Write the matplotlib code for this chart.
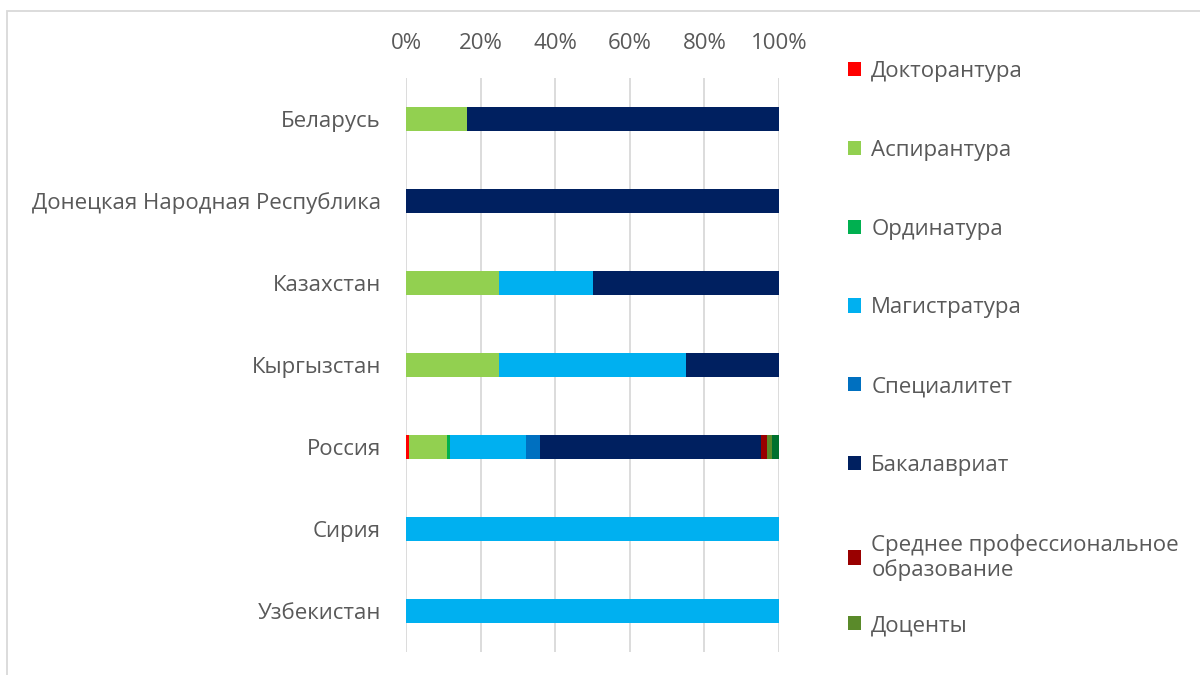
import matplotlib
matplotlib.use("Agg")
import matplotlib.pyplot as plt
import matplotlib.patches as mpatches
import numpy as np

plt.rcParams['font.family'] = ['Open Sans', 'DejaVu Sans']

# countries, top to bottom
countries = ['Беларусь', 'Донецкая Народная Республика', 'Казахстан', 'Кыргызстан',
             'Россия', 'Сирия', 'Узбекистан']

# shares (%) per level of education, same order as countries
doktorantura = [0, 0, 0, 0, 0.9, 0, 0]
aspirantura = [16.4, 0, 25, 25, 10.0, 0, 0]
ordinatura = [0, 0, 0, 0, 1.0, 0, 0]
magistratura = [0, 0, 25, 50, 20.2, 100, 100]
specialitet = [0, 0, 0, 0, 3.9, 0, 0]
bakalavriat = [83.6, 100, 50, 25, 59.1, 0, 0]
spo = [0, 0, 0, 0, 1.8, 0, 0]
docenty = [0, 0, 0, 0, 1.1, 0, 0]
other = [0, 0, 0, 0, 2.0, 0, 0]   # last dark-green piece, no legend entry

series = [
    ('Докторантура', doktorantura, '#ff0000'),
    ('Аспирантура', aspirantura, '#92d050'),
    ('Ординатура', ordinatura, '#00b050'),
    ('Магистратура', magistratura, '#00b0f0'),
    ('Специалитет', specialitet, '#0070c0'),
    ('Бакалавриат', bakalavriat, '#002060'),
    ('Среднее профессиональное\nобразование', spo, '#990000'),
    ('Доценты', docenty, '#5a8a2a'),
    ('_nolegend_', other, '#00702e'),
]

fig = plt.figure(figsize=(12, 6.75), dpi=100)
ax = fig.add_axes([406 / 1200, 1 - 652 / 675, 373 / 1200, 574 / 675])

y = np.arange(len(countries))
left = np.zeros(len(countries))
for name, vals, col in series:
    vals = np.array(vals)
    ax.barh(y, vals, left=left, height=0.3, color=col, label=name, zorder=3)
    left += vals

ax.set_xlim(0, 100)
ax.set_ylim(len(countries) - 0.5, -0.5)
ax.set_yticks(y)
ax.set_yticklabels(countries)
ax.set_xticks(np.arange(0, 101, 20))
ax.set_xticklabels([f'{v}%' for v in range(0, 101, 20)])
ax.xaxis.tick_top()
ax.tick_params(axis='both', length=0, labelsize=16, labelcolor='#595959')
ax.tick_params(axis='x', pad=17)
ax.tick_params(axis='y', pad=18)
ax.grid(axis='x', color='#d9d9d9', linewidth=1.3, zorder=0)
for s in ax.spines.values():
    s.set_visible(False)

handles, labels = ax.get_legend_handles_labels()
leg_kw = dict(frameon=False, fontsize=16, labelcolor='#595959',
              handlelength=0.6, handleheight=0.6, handletextpad=0.45,
              labelspacing=2.6, borderaxespad=0, borderpad=0)
leg1 = fig.legend(handles[:7], labels[:7], loc='upper left',
                  bbox_to_anchor=(848 / 1200, 1 - 61 / 675), **leg_kw)
leg2 = fig.legend(handles[7:], labels[7:], loc='upper left',
                  bbox_to_anchor=(848 / 1200, 1 - 615 / 675), **leg_kw)

# chart frame
fig.patches.append(mpatches.Rectangle((7 / 1200, -0.1), 1.2, 1 - 11 / 675 + 0.1,
                                      transform=fig.transFigure, fill=False,
                                      edgecolor='#d9d9d9', linewidth=1.3))

plt.savefig('out.png', dpi=100)
